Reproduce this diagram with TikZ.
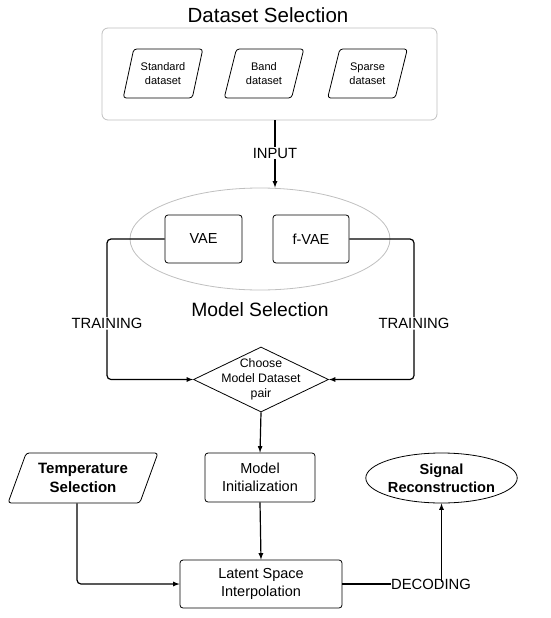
\documentclass[tikz,border=0pt]{standalone}
\usepackage{fontspec}
\setmainfont{Liberation Sans}
\usepackage{tikz}
\usetikzlibrary{calc, shapes.geometric, positioning}

\tikzset{
    hop/.style={draw, rounded corners=3pt, line width=0.8pt, fill=white,
        align=center, font=\fontsize{14.5}{18}\selectfont},
    dulieu/.style={draw, shape=trapezium, trapezium left angle=70,
        trapezium right angle=110, trapezium stretches=true, rounded corners=3pt,
        line width=0.8pt, align=center, minimum width=80pt, minimum height=49pt,
        inner sep=0pt, font=\fontsize{11}{14}\selectfont},
    noi/.style={->, line width=1.2pt, rounded corners=4pt},
    nhan/.style={fill=white, inner sep=1pt, font=\fontsize{14.8}{17}\selectfont}
}

\begin{document}
\begin{tikzpicture}[>=latex, x=1pt, y=-1pt]
    \useasboundingbox (0,0) rectangle (550,618);

    % Khối chọn dữ liệu
    \node[draw=black!25, line width=0.8pt, rounded corners=6pt,
        minimum width=335pt, minimum height=92pt] (data) at (269.5,74) {};
    \node[font=\fontsize{20.5}{24}\selectfont] (dstitle) at (268,15) {Dataset Selection};
    \node[dulieu] (std) at (163,73.5) {Standard\\dataset};
    \node[dulieu] (band) at (264,73.5) {Band\\dataset};
    \node[dulieu] (sparse) at (367.5,73.5) {Sparse\\dataset};

    % Khối chọn mô hình
    \node[draw=black!25, line width=0.8pt, shape=ellipse,
        minimum width=260pt, minimum height=102pt] (models) at (260,239) {};
    \node[hop, minimum width=77pt, minimum height=48pt] (vae) at (203.5,239) {VAE};
    \node[hop, minimum width=76pt, minimum height=48pt] (fvae) at (311,239) {f-VAE};
    \node[font=\fontsize{19.3}{23}\selectfont] (mstitle) at (260,310) {Model Selection};

    % Chọn cặp mô hình - dữ liệu (chữ tràn ra ngoài hình thoi)
    \node[draw, shape=diamond, line width=0.8pt, minimum width=135pt,
        minimum height=65pt, inner sep=0pt] (choose) at (261,379.5) {};
    \node[align=center, font=\fontsize{12.3}{15}\selectfont] (choosetxt)
        at (choose) {Choose\\Model Dataset\\pair};

    % Hàng dưới
    \node[hop, minimum width=110pt, minimum height=49pt] (init) at (260,477.5)
        {Model\\Initialization};
    \node[dulieu, trapezium left angle=64, trapezium right angle=116,
        minimum width=150pt, minimum height=50pt,
        font=\bfseries\fontsize{15}{19}\selectfont] (temp) at (83,478)
        {Temperature\\Selection};
    \node[draw, shape=ellipse, line width=0.8pt, minimum width=143pt,
        minimum height=50pt, inner sep=0pt, align=center,
        font=\bfseries\fontsize{14.6}{18}\selectfont] (sig) at (441.5,478)
        {Signal\\Reconstruction};
    \node[hop, minimum width=162pt, minimum height=48pt] (latent) at (261,584)
        {Latent Space\\Interpolation};
    \node[nhan, inner sep=0pt] (dec) at (431,584) {DECODING};
    \node[nhan] (inp) at (275,153) {INPUT};

    % Mũi tên nối
    \coordinate (tl) at (107,379.5);
    \coordinate (tr) at (414,379.5);
    \draw[line width=1.2pt] (inp |- data.south) -- (inp);
    \draw[noi] (inp) -- (inp |- models.north);
    \draw[noi] (vae.west) -| (tl) node[nhan, pos=0.8] {TRAINING} -- (choose.west);
    \draw[noi] (fvae.east) -| (tr) node[nhan, pos=0.8] {TRAINING} -- (choose.east);
    \draw[noi] (choose.south) -- (init.north);
    \draw[noi] (init.south) -- (latent.north);
    \draw[noi] ([xshift=-6pt]temp.south) |- (latent.west);
    \draw[line width=1.2pt] (latent.east) -- (dec.west);
    \draw[noi] ([yshift=-3pt]dec.north -| sig.south) -- (sig.south);
\end{tikzpicture}
\end{document}
